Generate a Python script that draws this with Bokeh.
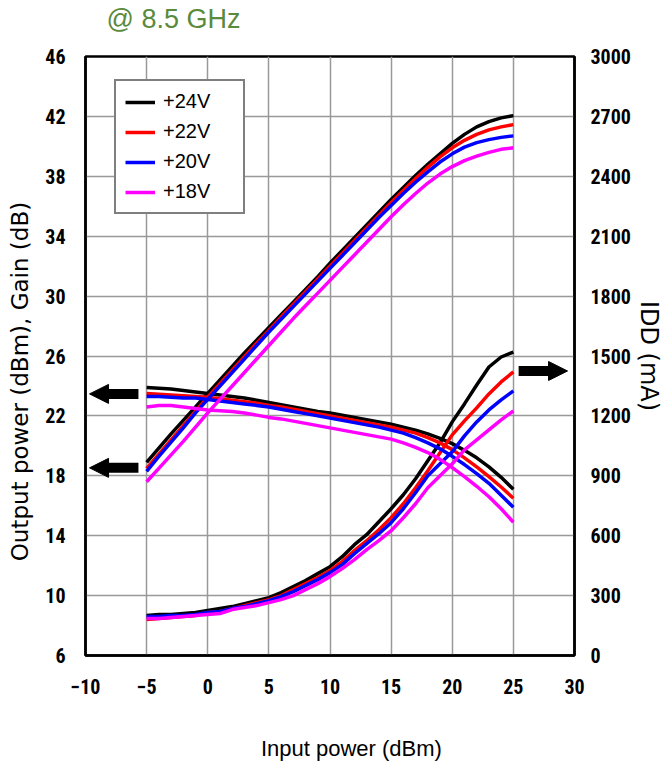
from bokeh.plotting import figure
from bokeh.models import (Range1d, LinearAxis, FixedTicker, Legend, LegendItem,
                          Title, Arrow, NormalHead)
from bokeh.embed import file_html
from bokeh.resources import INLINE

# ---------------- data ----------------
pin = [-5, -4, -3, -2, -1, 0, 1, 2, 3, 4, 5, 6, 7, 8, 9, 10, 11, 12, 13, 14, 15,
       16, 17, 18, 19, 20, 21, 22, 23, 24, 25]

pout_24 = [18.9, 19.85, 20.8, 21.7, 22.6, 23.5, 24.4, 25.3, 26.2, 27.05, 27.9, 28.75, 29.6,
           30.45, 31.3, 32.2, 33.05, 33.9, 34.75, 35.6, 36.45, 37.25, 38.05, 38.8, 39.5,
           40.2, 40.8, 41.3, 41.65, 41.9, 42.05]
pout_22 = [18.5, 19.45, 20.4, 21.35, 22.3, 23.25, 24.15, 25.05, 25.95, 26.85, 27.7, 28.6, 29.45,
           30.3, 31.15, 32.0, 32.85, 33.7, 34.55, 35.4, 36.25, 37.05, 37.85, 38.6, 39.3,
           39.9, 40.4, 40.8, 41.1, 41.3, 41.45]
pout_20 = [18.3, 19.3, 20.25, 21.2, 22.2, 23.1, 24.0, 24.9, 25.8, 26.7, 27.6, 28.45, 29.3,
           30.15, 31.0, 31.85, 32.7, 33.55, 34.4, 35.25, 36.05, 36.85, 37.6, 38.3, 38.95,
           39.5, 39.95, 40.25, 40.45, 40.6, 40.7]
pout_18 = [17.6, 18.5, 19.4, 20.3, 21.25, 22.2, 23.1, 24.0, 24.9, 25.8, 26.7, 27.6, 28.5,
           29.35, 30.2, 31.05, 31.9, 32.75, 33.6, 34.45, 35.3, 36.1, 36.85, 37.55, 38.15,
           38.65, 39.05, 39.35, 39.6, 39.8, 39.9]

gain_24 = [23.9, 23.85, 23.8, 23.7, 23.6, 23.5, 23.4, 23.3, 23.2, 23.05, 22.9, 22.75, 22.6,
           22.45, 22.3, 22.2, 22.05, 21.9, 21.75, 21.6, 21.45, 21.25, 21.05, 20.8, 20.5,
           20.15, 19.7, 19.2, 18.6, 17.9, 17.1]
gain_22 = [23.5, 23.45, 23.4, 23.35, 23.3, 23.25, 23.15, 23.05, 22.95, 22.85, 22.7, 22.6, 22.45,
           22.3, 22.15, 22.0, 21.85, 21.7, 21.55, 21.4, 21.25, 21.05, 20.85, 20.55, 20.2,
           19.75, 19.2, 18.6, 17.95, 17.25, 16.5]
gain_20 = [23.3, 23.3, 23.25, 23.2, 23.2, 23.1, 23.0, 22.9, 22.8, 22.7, 22.6, 22.45, 22.3,
           22.15, 22.0, 21.85, 21.7, 21.55, 21.4, 21.25, 21.05, 20.85, 20.55, 20.2, 19.8,
           19.3, 18.75, 18.15, 17.5, 16.7, 15.9]
gain_18 = [22.6, 22.7, 22.7, 22.6, 22.5, 22.4, 22.35, 22.3, 22.2, 22.05, 21.9, 21.8, 21.65,
           21.5, 21.35, 21.2, 21.05, 20.9, 20.75, 20.6, 20.45, 20.2, 19.9, 19.55, 19.1,
           18.55, 17.95, 17.3, 16.6, 15.8, 14.9]

idd_24 = [200, 205, 205, 210, 215, 225, 235, 245, 260, 275, 290, 315, 345, 375, 410, 445,
          495, 555, 605, 670, 735, 805, 885, 975, 1065, 1170, 1260, 1355, 1445, 1495, 1520]
idd_22 = [180, 185, 190, 195, 200, 215, 220, 235, 250, 265, 280, 300, 330, 360, 390, 425,
          470, 525, 575, 630, 690, 760, 840, 925, 1015, 1105, 1175, 1240, 1310, 1370, 1420]
idd_20 = [195, 195, 200, 200, 205, 215, 220, 235, 245, 260, 275, 295, 320, 350, 380, 415,
          455, 510, 560, 610, 665, 735, 815, 900, 960, 1020, 1100, 1170, 1230, 1280, 1325]
idd_18 = [185, 185, 190, 195, 200, 205, 210, 230, 240, 250, 265, 280, 300, 330, 360, 395,
          435, 480, 530, 575, 625, 690, 760, 840, 900, 960, 1030, 1080, 1130, 1180, 1225]

series_names = ["+24V", "+22V", "+20V", "+18V"]
series_colors = ["#000000", "#ff0000", "#0000ff", "#ff00ff"]

x_ticks = [-10, -5, 0, 5, 10, 15, 20, 25, 30]
left_ticks = [6, 10, 14, 18, 22, 26, 30, 34, 38, 42, 46]
right_ticks = [0, 300, 600, 900, 1200, 1500, 1800, 2100, 2400, 2700, 3000]

title_text = "@ 8.5 GHz"
x_label = "\u00a0" * 7 + "Input power (dBm)"
left_label = "Output power (dBm), Gain (dB)" + "\u00a0" * 7 + "\u200b"
right_label = "IDD (mA)"

# ---------------- figure ----------------
p = figure(width=665, height=768, output_backend="svg", toolbar_location=None,
           x_range=Range1d(-10, 30), y_range=Range1d(6, 46),
           min_border_left=85, min_border_right=90, min_border_top=56,
           min_border_bottom=113)
p.extra_y_ranges = {"idd": Range1d(0, 3000)}

tick_font = "Roboto Condensed, Liberation Sans"

p.xaxis.ticker = FixedTicker(ticks=x_ticks)
p.yaxis.ticker = FixedTicker(ticks=left_ticks)
p.xgrid.ticker = FixedTicker(ticks=x_ticks)
p.ygrid.ticker = FixedTicker(ticks=left_ticks)
for g in (p.xgrid, p.ygrid):
    g.grid_line_color = "#999999"
    g.grid_line_width = 1.5

right_axis = LinearAxis(y_range_name="idd", ticker=FixedTicker(ticks=right_ticks))
p.add_layout(right_axis, "right")

for ax in (p.xaxis[0], p.yaxis[0], right_axis):
    ax.major_tick_line_color = None
    ax.minor_tick_line_color = None
    ax.major_tick_out = 0
    ax.major_tick_in = 0
    ax.minor_tick_out = 0
    ax.minor_tick_in = 0
    ax.axis_line_color = "black"
    ax.axis_line_width = 2.5
    ax.major_label_text_font = tick_font
    ax.major_label_text_font_style = "bold"
    ax.major_label_text_font_size = "20px"
    ax.major_label_text_color = "black"
    ax.axis_label_text_font_style = "normal"
    ax.axis_label_text_color = "black"

p.xaxis.axis_label = x_label
p.xaxis.axis_label_text_font = "Liberation Sans"
p.xaxis.axis_label_text_font_size = "22px"
p.xaxis.major_label_standoff = 23
p.xaxis.axis_label_standoff = 39

p.yaxis[0].axis_label = left_label
p.yaxis[0].axis_label_text_font = "DejaVu Sans"
p.yaxis[0].axis_label_text_font_size = "23px"
p.yaxis[0].major_label_standoff = 20
p.yaxis[0].axis_label_standoff = 9

right_axis.axis_label = right_label
right_axis.axis_label_text_font = "DejaVu Sans"
right_axis.axis_label_text_font_size = "24px"
right_axis.major_label_standoff = 16
right_axis.axis_label_standoff = 1

p.outline_line_color = "black"
p.outline_line_width = 2.5

# ---------------- curves ----------------
pouts = [pout_24, pout_22, pout_20, pout_18]
gains = [gain_24, gain_22, gain_20, gain_18]
idds = [idd_24, idd_22, idd_20, idd_18]

items = []
for name, col, po, ga, idd in zip(series_names, series_colors, pouts, gains, idds):
    r1 = p.line(pin, po, line_color=col, line_width=3.5)
    p.line(pin, ga, line_color=col, line_width=3.5)
    p.line(pin, idd, line_color=col, line_width=3.5, y_range_name="idd")
    items.append(LegendItem(label=name, renderers=[r1]))

legend = Legend(items=items, location=(29, 441))
legend.border_line_color = "black"
legend.border_line_width = 2
legend.background_fill_color = "white"
legend.background_fill_alpha = 1
legend.label_text_font = "Liberation Sans"
legend.label_text_font_size = "20px"
legend.label_text_color = "black"
legend.label_height = 20
legend.glyph_height = 20
legend.glyph_width = 30
legend.label_width = 71
legend.spacing = 7
legend.padding = 9
legend.margin = 0
legend.label_standoff = 8
p.add_layout(legend, "center")

# ---------------- annotations ----------------
arrow_specs = [(-5.67, 23.47, -9.67, 23.47), (-5.67, 18.53, -9.67, 18.53),
               (25.43, 25.0, 29.43, 25.0)]
for xs, ys, xe, ye in arrow_specs:
    p.add_layout(Arrow(end=NormalHead(size=19, fill_color="black", line_color="black"),
                       x_start=xs, y_start=ys, x_end=xe, y_end=ye,
                       line_color="black", line_width=10))

# main title (outermost panel) + a small spacer panel between it and the frame
p.title.text = title_text
p.title.align = "left"
p.title.offset = 21
p.title.standoff = 0
p.title.text_font = "Liberation Sans"
p.title.text_font_size = "27px"
p.title.text_font_style = "normal"
p.title.text_color = "#5a8a3c"

p.add_layout(Title(text="\u00a0", text_font_size="10px", standoff=10), "above")

open("out.html", "w").write(file_html(p, INLINE))
